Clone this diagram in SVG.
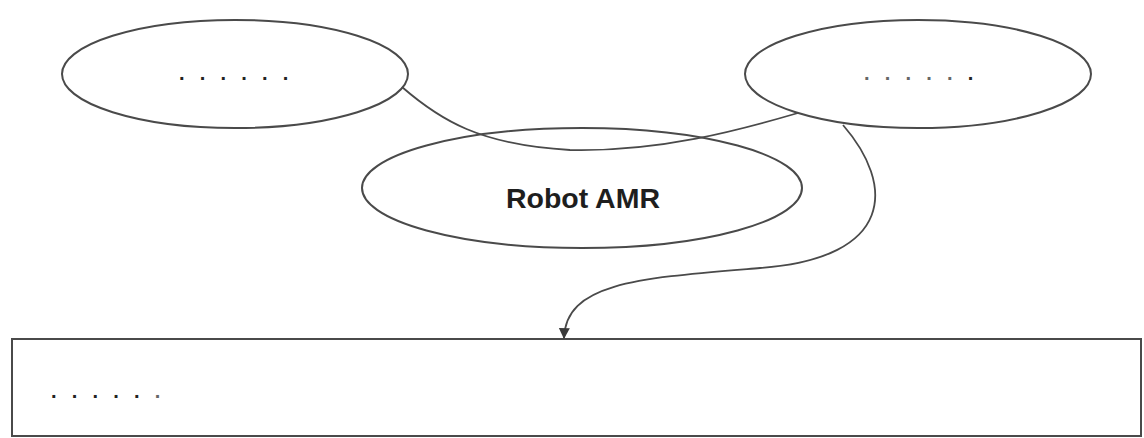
<svg xmlns="http://www.w3.org/2000/svg" width="1144" height="438" viewBox="0 0 1144 438">
<style>
.shape{fill:#fff;stroke:#4a4a4a;stroke-width:2}
.conn{fill:none;stroke:#4a4a4a;stroke-width:1.8}
.dots{font-family:"Liberation Sans",Arial,sans-serif;font-weight:bold;font-size:20px;fill:#222;letter-spacing:15.2px}
.light{fill:#666}
.label{font-family:"Liberation Sans",Arial,sans-serif;font-weight:bold;font-size:28.5px;fill:#1e1e1e;text-anchor:middle}
</style>
<defs>
<marker id="arrow" viewBox="0 0 10 10" refX="9" refY="5" markerWidth="13" markerHeight="11" markerUnits="userSpaceOnUse" orient="auto" style="overflow:visible">
<path d="M0,0 L10,5 L0,10 z" fill="#3a3a3a"/>
</marker>
</defs>
<rect width="1144" height="438" fill="#fff"/>
<g id="node-left">
<ellipse class="shape" cx="235" cy="74" rx="173" ry="54"/>
<text class="dots" x="179" y="80">......</text>
</g>
<g id="node-right">
<ellipse class="shape" cx="918" cy="74" rx="173" ry="54"/>
<text class="dots" x="864" y="80"><tspan class="light">.....</tspan>.</text>
</g>
<g id="node-robot">
<ellipse class="shape" cx="582" cy="188" rx="220" ry="60"/>
<text class="label" x="583" y="208">Robot AMR</text>
</g>
<g id="node-bottom">
<rect class="shape" x="12" y="339" width="1129" height="97"/>
<text class="dots" x="51" y="398">.....<tspan class="light">.</tspan></text>
</g>
<g id="connectors">
<path class="conn" d="M402,87 C440,120 480,145 570,150 C660,152 740,130 798,113"/>
<path class="conn" d="M843,125 C895,185 895,258 760,268 C640,278 566,282 564,338" marker-end="url(#arrow)"/>
</g>
</svg>
